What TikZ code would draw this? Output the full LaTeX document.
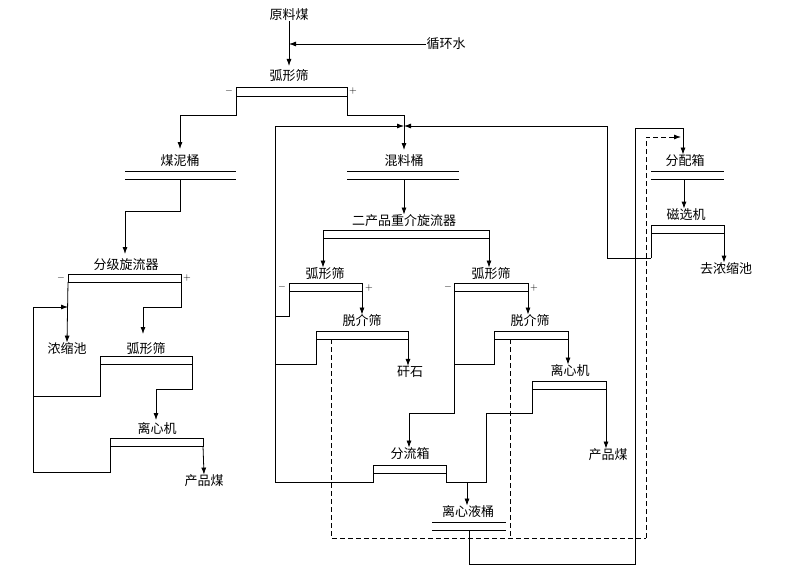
\documentclass[tikz,border=0pt]{standalone}
\usepackage{fontspec}
\setmainfont{Noto Sans CJK SC}
\usetikzlibrary{arrows.meta}
\begin{document}
\begin{tikzpicture}[x=1pt,y=-1pt,line width=0.8pt,
  lbl/.style={inner sep=0pt,font=\fontsize{13}{13}\selectfont},
  pm/.style={inner sep=0pt,font=\fontsize{10}{10}\selectfont},
  ar/.style={-{Latex[length=7pt,width=5pt]}},
  dsh/.style={dash pattern=on 5pt off 3pt}]
\useasboundingbox (0,0) rectangle (800,575);
% labels
\node[lbl] (ylm) at (289,15) {原料煤};
\node[lbl] (xhs) at (446,44) {循环水};
\node[lbl] (hxs0) at (289,76) {弧形筛};
\node[lbl] (mnt) at (180,161) {煤泥桶};
\node[lbl] (hlt) at (404,161) {混料桶};
\node[lbl] (fpx) at (685,161) {分配箱};
\node[lbl] (cxj) at (686,215) {磁选机};
\node[lbl] (qns) at (726,269) {去浓缩池};
\node[lbl] (ecp) at (404,221) {二产品重介旋流器};
\node[lbl] (fjx) at (126,265) {分级旋流器};
\node[lbl] (hxsL) at (325,274) {弧形筛};
\node[lbl] (hxsR) at (491,274) {弧形筛};
\node[lbl] (tjsL) at (362,321) {脱介筛};
\node[lbl] (tjsR) at (530,321) {脱介筛};
\node[lbl] (nsc) at (67,349) {浓缩池};
\node[lbl] (hxsA) at (146,349) {弧形筛};
\node[lbl] (gs) at (410,372) {矸石};
\node[lbl] (lxjR) at (570,371) {离心机};
\node[lbl] (lxjA) at (157,429) {离心机};
\node[lbl] (flx) at (410,454) {分流箱};
\node[lbl] (cpmR) at (608,455) {产品煤};
\node[lbl] (cpmA) at (204,481) {产品煤};
\node[lbl] (lxyt) at (468,512) {离心液桶};
% +/- signs
\node[pm] (m0) at (229,91) {$-$}; \node[pm] (p0) at (353,91) {$+$};
\node[pm] (m1) at (61,278) {$-$}; \node[pm] (p1) at (187,278) {$+$};
\node[pm] (m2) at (282,287) {$-$}; \node[pm] (p2) at (369,288) {$+$};
\node[pm] (m3) at (448,287) {$-$}; \node[pm] (p3) at (534,288) {$+$};
% screen boxes
\draw (236,87) rectangle (347,96);
\draw (68,274) rectangle (181,282);
\draw (100,356) rectangle (192,364);
\draw (110,438) rectangle (203,446);
\draw (323,230) rectangle (489,238);
\draw (289,283) rectangle (362,291);
\draw (454,283) rectangle (528,291);
\draw (316,331) rectangle (408,339);
\draw (494,331) rectangle (568,339);
\draw (532,381) rectangle (606,389);
\draw (373,465) rectangle (446,473);
\draw (651,225) rectangle (724,233);
% buckets
\foreach \a/\b/\y in {125/236/171,347/459/171,651/724/171,432/506/522}{
  \draw (\a,\y) -- (\b,\y); \draw (\a,\y+8) -- (\b,\y+8);}
% coordinates
\coordinate (j1) at (289,44);
\coordinate (mix) at (404,126);
% flows
\draw[ar] (ylm.south) -- (289,66);
\draw[ar] (xhs.west) -- (j1);
\draw[ar] (236,96) -- (236,115) -| (180,149);
\draw[ar] (347,96) -- (347,115) -| (404,150);
\draw[ar] (275,482) -- (275,126) -- (mix);
\draw[ar] (651,258) -- (607,258) -- (607,126) -- (mix);
\draw[ar] (180,179) -- (180,211) -| (125,254);
\draw[ar] (68,282) -- (nsc.north);
\draw[ar] (181,282) -- (181,307) -| (143,334);
\draw[ar] (33,472) -- (33,307) -- (68,307);
\draw (100,364) -- (100,396) -- (33,396);
\draw (110,446) -- (110,472) -- (33,472);
\draw[ar] (192,364) -- (192,389) -| (156,420);
\draw[ar] (203,446) -- (cpmA.north);
\draw[ar] (404,179) -- (ecp.north);
\draw[ar] (323,238) -- (hxsL.north -| 323,0);
\draw[ar] (489,238) -- (hxsR.north -| 489,0);
\draw[ar] (362,291) -- (tjsL.north -| 362,0);
\draw[ar] (528,291) -- (tjsR.north -| 528,0);
\draw[ar] (408,339) -- (gs.north -| 408,0);
\draw[ar] (568,339) -- (lxjR.north -| 568,0);
\draw[ar] (606,389) -- (cpmR.north -| 606,0);
\draw (289,291) -- (289,316) -- (275,316);
\draw (316,339) -- (316,364) -- (275,364);
\draw (275,482) -- (373,482) -- (373,473);
\draw (494,339) -- (494,364) -- (454,364);
\draw[ar] (454,291) -- (454,413) -| (flx.north -| 409,0);
\draw (446,473) -- (446,482) -- (486,482) -- (486,413) -- (532,413) -- (532,389);
\draw[ar] (467,482) -- (lxyt.north -| 467,0);
\draw[ar] (469,530) -- (469,564) -- (635,564) -- (635,128) -| (fpx.north -| 683,0);
\draw[ar] (684,179) -- (cxj.north -| 684,0);
\draw[ar] (724,233) -- (qns.north -| 724,0);
\draw (651,233) -- (651,258);
% dashed
\draw[dsh] (331,339) -- (331,538) -- (646,538);
\draw[dsh] (510,339) -- (510,538);
\draw[dsh,ar] (646,538) -- (646,137) -- (681,137);
\end{tikzpicture}
\end{document}
